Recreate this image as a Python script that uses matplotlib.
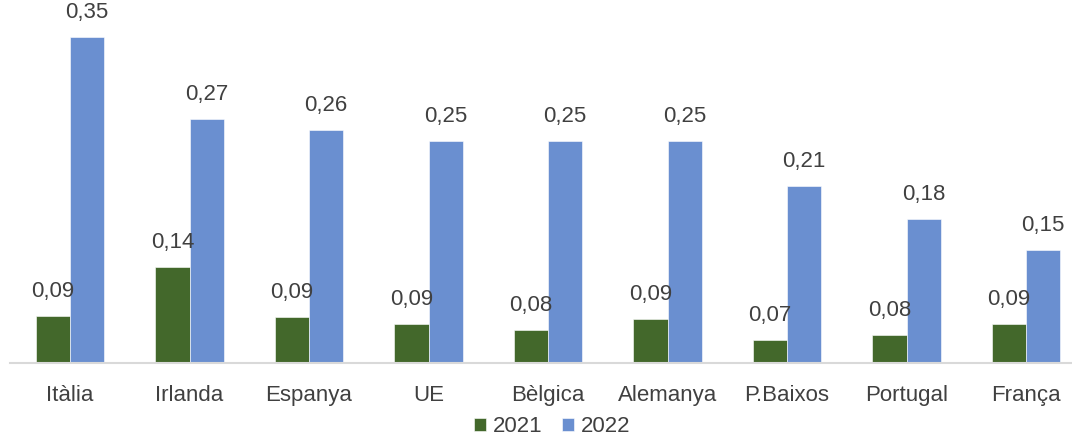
import matplotlib.pyplot as plt
import numpy as np

countries = ["Itàlia", "Irlanda", "Espanya", "UE", "Bèlgica", "Alemanya", "P.Baixos", "Portugal", "França"]
vals_2021 = [0.093, 0.138, 0.092, 0.086, 0.080, 0.090, 0.071, 0.076, 0.086]
vals_2022 = [0.350, 0.274, 0.264, 0.254, 0.254, 0.254, 0.213, 0.182, 0.154]
years = ["2021", "2022"]

green = "#43682B"
blue = "#6A8FD0"

plt.rcParams['font.family'] = ['Liberation Sans', 'DejaVu Sans']

fig = plt.figure(figsize=(10.72, 4.37), dpi=100)
# plot area (figure px: x 10..1086, y 0..363)
ax = fig.add_axes([10.25 / 1072, 1 - 363 / 437, 1075.5 / 1072, 363 / 437])

x = np.arange(len(countries))
w = 0.285
b1 = ax.bar(x - w / 2, vals_2021, w, color=green, edgecolor="#ffffff", linewidth=0.4, label=years[0])
b2 = ax.bar(x + w / 2, vals_2022, w, color=blue, edgecolor="#ffffff", linewidth=0.4, label=years[1])

for bars in (b1, b2):
    for r in bars:
        v = r.get_height()
        ax.annotate(f"{v:.2f}".replace(".", ","), (r.get_x() + r.get_width() / 2, v),
                    xytext=(0, 13.7), textcoords="offset points",
                    ha="center", va="baseline", fontsize=16, color="#404040")

ax.set_ylim(0.05, 0.3837)
ax.set_xlim(-0.5, len(countries) - 0.5)
ax.set_yticks([])
ax.set_xticks(x)
ax.set_xticklabels(countries, fontsize=16, color="#404040")
ax.tick_params(axis="x", length=0, pad=16)

for s in ["top", "right", "left"]:
    ax.spines[s].set_visible(False)
ax.spines["bottom"].set_color("#D9D9D9")
ax.spines["bottom"].set_linewidth(1.5)

fig.legend(handles=[b1, b2], labels=years, loc="center", bbox_to_anchor=(0.515, 1 - 427 / 437),
           ncol=2, frameon=False, fontsize=16, handlelength=0.55, handleheight=0.55,
           handletextpad=0.3, columnspacing=0.9, labelcolor="#404040")

fig.savefig("out.png", dpi=100)
